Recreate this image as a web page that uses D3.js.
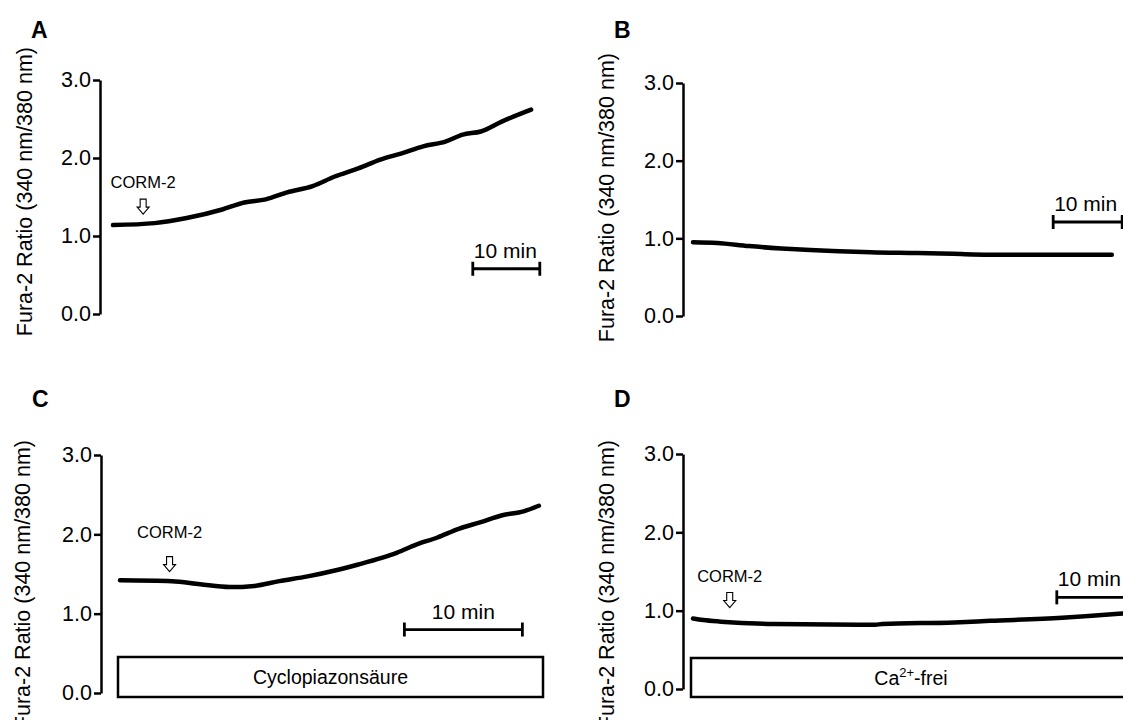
<!DOCTYPE html>
<html>
<head>
<meta charset="utf-8">
<script src="https://cdn.jsdelivr.net/npm/d3@7"></script>
<style>
  body { margin: 0; background: #fff; }
  text { font-family: "Liberation Sans", Arial, sans-serif; fill: #000; }
</style>
</head>
<body>
<div id="vis"></div>
<script>
// Fura-2 traces (time in min, ratio 340/380)
const yTicks = [0, 1, 2, 3];

const timeA  = [0, 6.2, 11, 16.3, 19.6, 22.8, 26, 29.8, 33, 36.7, 39.9, 43.1, 46.3, 49.6, 52.2, 54.9, 58.1, 62.4];
const ratioA = [1.14, 1.165, 1.23, 1.34, 1.43, 1.47, 1.56, 1.64, 1.76, 1.87, 1.98, 2.06, 2.15, 2.21, 2.30, 2.34, 2.47, 2.62];

const timeB  = [0, 3.5, 8.1, 12.8, 17.0, 21.2, 25.8, 32.6, 37.7, 42.9, 48.1, 60.7];
const ratioB = [0.95, 0.94, 0.9, 0.87, 0.85, 0.835, 0.82, 0.81, 0.80, 0.79, 0.79, 0.79];

const timeC  = [0, 4.4, 6.8, 9.3, 11.4, 13.5, 15.9, 18.4, 20.2, 22.1, 23.5, 25.1, 26.9, 28.7, 30.5, 32.4, 34.2, 35.5];
const ratioC = [1.42, 1.41, 1.37, 1.335, 1.35, 1.41, 1.47, 1.55, 1.62, 1.70, 1.77, 1.87, 1.96, 2.07, 2.15, 2.24, 2.29, 2.36];

const timeD  = [0, 1.5, 4.1, 12, 26.8, 27.8, 38.4, 43.7, 54.3, 62.6, 64];
const ratioD = [0.90, 0.88, 0.86, 0.83, 0.82, 0.83, 0.85, 0.87, 0.91, 0.96, 0.97];

const letters = ["A", "B", "C", "D"];
const corm2Time = [4.5, null, 4.2, 5.4];     // arrow position (min)
const corm2Tip  = [1.28, null, 1.53, 1.04];  // arrow tip (ratio)
const barStart  = [53.7, 52.2, 24.1, 53.5];  // 10 min scale bar start (min)
const barLevel  = [0.58, 1.21, 0.80, 1.17];  // scale bar height (ratio)
const boxLabels = [null, null, "Cyclopiazonsäure", "Ca2+-frei"];

// layout of each panel
const layout = [
  {ax: 100, y0: 314, y3: 80,  x0: 113, ppm: 6.7,  lx: 24,  top: 47,  ly: 38},
  {ax: 683, y0: 316, y3: 83,  x0: 693, ppm: 6.9,  lx: 606, top: 53,  ly: 38},
  {ax: 101, y0: 693, y3: 455, x0: 120, ppm: 11.8, lx: 22,  top: 440, ly: 407},
  {ax: 683, y0: 689, y3: 454, x0: 693, ppm: 6.8,  lx: 606, top: 440, ly: 407}
];
const boxes = [null, null, {x1: 118, x2: 543, yt: 657, yb: 697}, {x1: 691, x2: 1131, yt: 658, yb: 697}];
const series = [[timeA, ratioA], [timeB, ratioB], [timeC, ratioC], [timeD, ratioD]];

const width = 1123, height = 720;
const svg = d3.select("#vis").append("svg")
  .attr("width", width).attr("height", height);

layout.forEach((p, i) => {
  const [ts, rs] = series[i];
  const tMax = 70;
  const x = d3.scaleLinear().domain([0, tMax]).range([p.x0, p.x0 + tMax * p.ppm]);
  const y = d3.scaleLinear().domain([0, 3]).range([p.y0, p.y3]);
  const g = svg.append("g");

  // panel letter
  g.append("text")
    .attr("x", p.ax - 69).attr("y", p.ly)
    .attr("font-size", 23).attr("font-weight", "bold")
    .text(letters[i]);

  // y axis
  const axis = g.append("g")
    .attr("transform", `translate(${p.ax},0)`)
    .call(d3.axisLeft(y).tickValues(yTicks).tickFormat(d3.format(".1f"))
      .tickSize(7).tickSizeOuter(0).tickPadding(2));
  axis.select(".domain").attr("stroke-width", 2.5);
  axis.selectAll(".tick line").attr("stroke-width", 2.5);
  axis.selectAll(".tick text")
    .attr("font-size", 21.5).attr("font-family", "Liberation Sans, Arial, sans-serif");

  g.append("text")
    .attr("transform", `translate(${p.lx + 8},${p.top}) rotate(-90)`)
    .attr("text-anchor", "end")
    .attr("font-size", 21.5)
    .text("Fura-2 Ratio (340 nm/380 nm)");

  // stimulus box
  if (boxes[i]) {
    const b = boxes[i];
    g.append("rect")
      .attr("x", b.x1).attr("y", b.yt)
      .attr("width", b.x2 - b.x1).attr("height", b.yb - b.yt)
      .attr("fill", "#fff").attr("stroke", "#000").attr("stroke-width", 2.5);
    const t = g.append("text")
      .attr("x", (b.x1 + b.x2) / 2).attr("y", (b.yt + b.yb) / 2 + 7)
      .attr("text-anchor", "middle").attr("font-size", 19.5);
    if (boxLabels[i] === "Ca2+-frei") {
      t.append("tspan").text("Ca");
      t.append("tspan").attr("font-size", 13).attr("dy", -8).text("2+");
      t.append("tspan").attr("dy", 8).text("-frei");
    } else {
      t.text(boxLabels[i]);
    }
  }

  // trace
  const pts = ts.map((t, k) => [t, rs[k]]);
  g.append("path")
    .datum(pts)
    .attr("fill", "none").attr("stroke", "#000")
    .attr("stroke-width", 4.5).attr("stroke-linecap", "round").attr("stroke-linejoin", "round")
    .attr("d", d3.line().x(d => x(d[0])).y(d => y(d[1])).curve(d3.curveMonotoneX));

  // 10 min scale bar
  const bx1 = x(barStart[i]), bx2 = x(barStart[i] + 10), by = y(barLevel[i]);
  g.append("line").attr("x1", bx1).attr("x2", bx2).attr("y1", by).attr("y2", by)
    .attr("stroke", "#000").attr("stroke-width", 2.8);
  [bx1, bx2].forEach(bx => g.append("line")
    .attr("x1", bx).attr("x2", bx).attr("y1", by - 7).attr("y2", by + 7)
    .attr("stroke", "#000").attr("stroke-width", 2.8));
  g.append("text")
    .attr("x", i === 2 ? (bx1 + bx2) / 2 : bx1 + 1)
    .attr("y", by - 11)
    .attr("text-anchor", i === 2 ? "middle" : "start")
    .attr("font-size", 21)
    .text("10 min");

  // CORM-2 arrow
  if (corm2Time[i] !== null) {
    const ax = x(corm2Time[i]), ay = y(corm2Tip[i]);
    const arrow = `M${ax - 3},${ay - 15} L${ax + 3},${ay - 15} L${ax + 3},${ay - 7} L${ax + 6},${ay - 7}
      L${ax},${ay} L${ax - 6},${ay - 7} L${ax - 3},${ay - 7} Z`;
    g.append("path").attr("d", arrow)
      .attr("fill", "#fff").attr("stroke", "#000").attr("stroke-width", 1.1);
    g.append("text")
      .attr("x", ax).attr("y", ay - 26 - (i === 2 ? 8 : 0))
      .attr("text-anchor", "middle").attr("font-size", 16.5)
      .text("CORM-2");
  }
});
</script>
</body>
</html>
